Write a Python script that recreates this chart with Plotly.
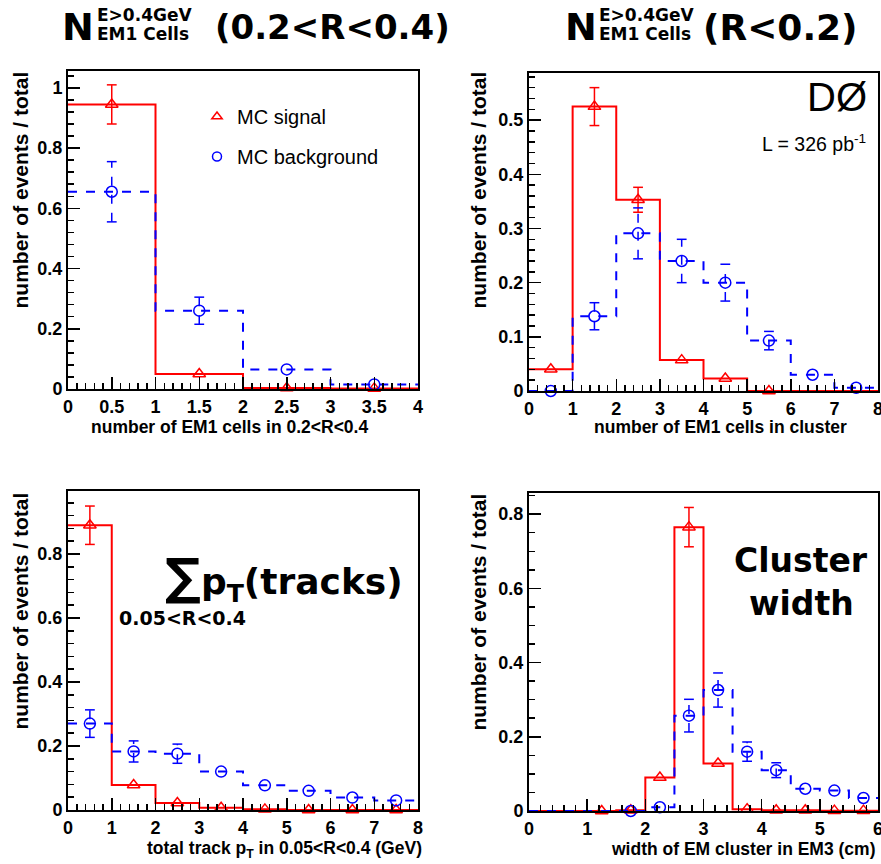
import plotly.graph_objects as go

W, H = 881, 864

# ---------------- data ----------------
# Panel 1: number of EM1 cells in 0.2<R<0.4
p1_edges = [0, 1, 2, 3, 4]
p1_sig = [0.945, 0.05, 0.003, 0.002]
p1_sig_err = [0.065, 0, 0, 0]
p1_sig_pts = [0.945, 0.05, 0.003, 0.002]
p1_bkg = [0.655, 0.26, 0.065, 0.015]
p1_bkg_err = [0.1, 0.045, 0, 0]
p1_bkg_pts = [0.655, 0.26, 0.065, 0.015]

# Panel 2: number of EM1 cells in cluster
p2_edges = [0, 1, 2, 3, 4, 5, 6, 7, 8]
p2_sig = [0.04, 0.525, 0.353, 0.057, 0.023, 0.0, 0.0, 0.0]
p2_sig_err = [0, 0.035, 0.023, 0, 0, 0, 0, 0]
p2_sig_pts = [0.04, 0.525, 0.353, 0.057, 0.023, 0.0, None, None]
p2_bkg = [0.0, 0.138, 0.291, 0.24, 0.2, 0.093, 0.03, 0.006]
p2_bkg_err = [0, 0.025, 0.047, 0.04, 0.034, 0.017, 0, 0]
p2_bkg_pts = [0.0, 0.138, 0.291, 0.24, 0.2, 0.093, 0.03, 0.006]

# Panel 3: total track pT in 0.05<R<0.4
p3_edges = [0, 1, 2, 3, 4, 5, 6, 7, 8]
p3_sig = [0.89, 0.078, 0.022, 0.007, 0.002, 0.0, 0.0, 0.0]
p3_sig_err = [0.06, 0, 0, 0, 0, 0, 0, 0]
p3_sig_pts = [0.89, 0.078, 0.022, 0.007, 0.002, 0.0, 0.0, 0.0]
p3_bkg = [0.27, 0.183, 0.176, 0.12, 0.077, 0.06, 0.039, 0.03]
p3_bkg_err = [0.043, 0.033, 0.03, 0, 0, 0, 0, 0]
p3_bkg_pts = [0.27, 0.183, 0.176, 0.12, 0.077, 0.06, 0.039, 0.03]

# Panel 4: width of EM cluster in EM3
p4_edges = [0, 0.5, 1, 1.5, 2, 2.5, 3, 3.5, 4, 4.5, 5, 5.5, 6]
p4_sig = [0, 0, 0, 0.002, 0.09, 0.765, 0.128, 0.005, 0.002, 0.002, 0.001, 0.001]
p4_sig_err = [0, 0, 0, 0, 0, 0.053, 0, 0, 0, 0, 0, 0]
p4_sig_pts = [None, None, 0, 0.002, 0.09, 0.765, 0.128, 0.005, 0.002, 0.002, 0.001, 0.001]
p4_bkg = [0, 0, 0, 0.0, 0.01, 0.257, 0.326, 0.16, 0.11, 0.06, 0.055, 0.035]
p4_bkg_err = [0, 0, 0, 0, 0, 0.044, 0.046, 0.026, 0.02, 0, 0, 0]
p4_bkg_pts = [None, None, None, 0.0, 0.01, 0.257, 0.326, 0.16, 0.11, 0.06, 0.055, 0.035]

legend_labels = ["MC signal", "MC background"]

RED = "#ff0000"
BLUE = "#0000ff"
AXFONT = "Liberation Sans"
COMIC = "DejaVu Sans"


def px(x):
    return x / W


def py(y):
    return 1 - y / H


def centers(edges):
    return [(a + b) / 2 for a, b in zip(edges[:-1], edges[1:])]


fig = go.Figure()


def add_panel(n, edges, sig, sig_err, sig_pts, bkg, bkg_err, bkg_pts):
    xa = "x" if n == 1 else f"x{n}"
    ya = "y" if n == 1 else f"y{n}"
    c = centers(edges)
    for vals, errs, pts, col, dash, sym in [
        (sig, sig_err, sig_pts, RED, "solid", "triangle-up-open"),
        (bkg, bkg_err, bkg_pts, BLUE, "dash", "circle-open"),
    ]:
        # histogram outline
        fig.add_trace(go.Scatter(
            x=edges, y=list(vals) + [vals[-1]], mode="lines",
            line=dict(shape="hv", color=col, width=2, dash=dash),
            xaxis=xa, yaxis=ya, showlegend=False, hoverinfo="skip"))
        # error bars
        ex, ey, cx, cy = [], [], [], []
        for xc, v, e in zip(c, vals, errs):
            if v is not None and e > 0:
                ex += [xc, xc, None]
                ey += [v - e, v + e, None]
                cx += [xc, xc]
                cy += [v - e, v + e]
        if ex:
            fig.add_trace(go.Scatter(
                x=ex, y=ey, mode="lines",
                line=dict(color=col, width=1.5, dash="dash" if dash == "dash" else "solid"),
                xaxis=xa, yaxis=ya, showlegend=False, hoverinfo="skip"))
            fig.add_trace(go.Scatter(
                x=cx, y=cy, mode="markers",
                marker=dict(symbol="line-ew-open", size=7, color=col, line=dict(width=1.5, color=col)),
                xaxis=xa, yaxis=ya, showlegend=False, hoverinfo="skip"))
        # markers
        fig.add_trace(go.Scatter(
            x=c, y=pts, mode="markers", cliponaxis=False,
            marker=dict(symbol=sym, size=11, color=col, line=dict(width=1.5, color=col)),
            xaxis=xa, yaxis=ya, showlegend=False, hoverinfo="skip"))


add_panel(1, p1_edges, p1_sig, p1_sig_err, p1_sig_pts, p1_bkg, p1_bkg_err, p1_bkg_pts)
add_panel(2, p2_edges, p2_sig, p2_sig_err, p2_sig_pts, p2_bkg, p2_bkg_err, p2_bkg_pts)
add_panel(3, p3_edges, p3_sig, p3_sig_err, p3_sig_pts, p3_bkg, p3_bkg_err, p3_bkg_pts)
add_panel(4, p4_edges, p4_sig, p4_sig_err, p4_sig_pts, p4_bkg, p4_bkg_err, p4_bkg_pts)

# legend entries (panel 1)
for name, sym, col, grp in [(legend_labels[0], "triangle-up-open", RED, "a"),
                            (legend_labels[1], "circle-open", BLUE, "b")]:
    fig.add_trace(go.Scatter(
        x=[None], y=[None], mode="markers", name=name, legendgroup=grp,
        marker=dict(symbol=sym, size=9, color=col, line=dict(width=1.5, color=col)),
        xaxis="x", yaxis="y", showlegend=True))

# ---------------- axes ----------------
tickfont = dict(family=AXFONT, size=18, color="black", weight="bold")


def axis(domain, rng, dtick, minor_dtick, anchor):
    return dict(domain=domain, range=rng, anchor=anchor, showline=True, linecolor="black",
                linewidth=2, mirror=True, ticks="inside", ticklen=12, tickwidth=1.5,
                tickcolor="black", tick0=0, dtick=dtick, showgrid=False, zeroline=False,
                tickfont=tickfont, fixedrange=True, automargin=False,
                ticklabeloverflow="allow",
                minor=dict(ticks="inside", ticklen=6, tickwidth=1.5, tickcolor="black",
                           dtick=minor_dtick, tick0=0, showgrid=False))


L_DOM = [px(68), px(418)]
R_DOM = [px(529), px(878)]

layout = dict(
    width=W, height=H, margin=dict(l=0, r=0, t=0, b=0, autoexpand=False),
    paper_bgcolor="white", plot_bgcolor="white",
    xaxis=axis(L_DOM, [0, 4], 0.5, 0.1, "y"),
    yaxis=axis([py(389), py(71)], [0, 1.056], 0.2, 0.04, "x"),
    xaxis2=axis(R_DOM, [0, 8], 1, 0.2, "y2"),
    yaxis2=axis([py(391), py(73)], [0, 0.587], 0.1, 0.02, "x2"),
    xaxis3=axis(L_DOM, [0, 8], 1, 0.2, "y3"),
    yaxis3=axis([py(810), py(491)], [0, 0.997], 0.2, 0.04, "x3"),
    xaxis4=axis(R_DOM, [0, 6], 1, 0.2, "y4"),
    yaxis4=axis([py(811), py(493)], [0, 0.857], 0.2, 0.05, "x4"),
    showlegend=True,
    legend=dict(x=px(197), y=py(97), xanchor="left", yanchor="top",
                bgcolor="rgba(0,0,0,0)", tracegroupgap=11,
                font=dict(family=AXFONT, size=20, color="black"), itemsizing="trace"),
)
fig.update_layout(**layout)

ann = []


def text(x, y, s, size, family=AXFONT, weight="normal", xanchor="center", yanchor="middle",
         angle=0, italic=False):
    ann.append(dict(x=px(x), y=py(y), xref="paper", yref="paper", text=s, showarrow=False,
                    xanchor=xanchor, yanchor=yanchor, textangle=angle,
                    font=dict(family=family, size=size, color="black", weight=weight,
                              style="italic" if italic else "normal")))


# y-axis titles
for xx, yy in [(20, 70), (478, 70), (20, 491), (478, 492)]:
    text(xx, yy, "number of events / total", 21, weight="bold", xanchor="center",
         yanchor="top", angle=-90)

# x-axis titles
text(370, 427, "number of EM1 cells in 0.2&lt;R&lt;0.4", 17.5, weight="bold", xanchor="right")
text(849, 427, "number of EM1 cells in cluster", 17.5, weight="bold", xanchor="right")
text(424, 849, "total track p<sub>T</sub> in 0.05&lt;R&lt;0.4 (GeV)", 17.5, weight="bold", xanchor="right")
text(878, 849, "width of EM cluster in EM3 (cm)", 17.5, weight="bold", xanchor="right")

# panel titles
text(60, 27, "N", 38, family=COMIC, weight="bold", xanchor="left")
text(95, 15, "E&gt;0.4GeV", 17, family=COMIC, weight="bold", xanchor="left")
text(95, 34, "EM1 Cells", 17, family=COMIC, weight="bold", xanchor="left")
text(213, 27, "(0.2&lt;R&lt;0.4)", 34, family=COMIC, weight="bold", xanchor="left")

text(563, 27, "N", 38, family=COMIC, weight="bold", xanchor="left")
text(597, 15, "E&gt;0.4GeV", 17, family=COMIC, weight="bold", xanchor="left")
text(597, 34, "EM1 Cells", 17, family=COMIC, weight="bold", xanchor="left")
text(701, 27, "(R&lt;0.2)", 36, family=COMIC, weight="bold", xanchor="left")

# D0 label
text(869, 97, "DØ", 40, xanchor="right")
text(868, 143, "L = 326 pb<sup>-1</sup>", 19.5, xanchor="right")

# sum pT label
text(163, 578, "<span style='font-size:50px'>∑</span>p<sub>T</sub>(tracks)", 36,
     family=COMIC, weight="bold", xanchor="left")
text(117, 618, "0.05&lt;R&lt;0.4", 19, family=COMIC, weight="bold", xanchor="left")

# Cluster width label
text(801, 560, "Cluster", 33, family=COMIC, weight="bold")
text(801, 603, "width", 33, family=COMIC, weight="bold")

fig.update_layout(annotations=ann)

# remove the default page margin/scrollbars so the 881x864 figure fills the window exactly
fig.write_html(
    "out.html",
    config={"displayModeBar": False, "staticPlot": True},
    post_script=("document.documentElement.style.overflow='hidden';"
                 "document.body.style.margin='0';document.body.style.overflow='hidden';"),
)
